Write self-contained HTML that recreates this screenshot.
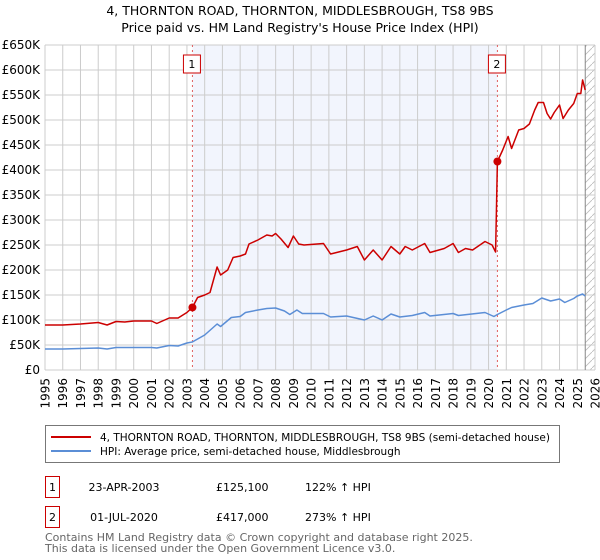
<!DOCTYPE html>
<html><head><meta charset="utf-8">
<style>
body{margin:0;background:#fff;font-family:"Liberation Sans","DejaVu Sans",sans-serif;}
#wrap{position:relative;width:600px;height:560px;overflow:hidden;}
svg text{font-family:"DejaVu Sans","Liberation Sans",sans-serif;}
</style></head><body>
<div id="wrap">
<svg id="chart" width="600" height="560"></svg>
</div>
<script>
const yTicks=[0,50000,100000,150000,200000,250000,300000,350000,400000,450000,500000,550000,600000,650000];
const yTickLabels=["£0","£50K","£100K","£150K","£200K","£250K","£300K","£350K","£400K","£450K","£500K","£550K","£600K","£650K"];
const xYears=[1995,1996,1997,1998,1999,2000,2001,2002,2003,2004,2005,2006,2007,2008,2009,2010,2011,2012,2013,2014,2015,2016,2017,2018,2019,2020,2021,2022,2023,2024,2025,2026];
const redYears=[1995,1996,1997,1998,1998.5,1999,1999.5,2000,2001,2001.3,2002,2002.5,2003,2003.31,2003.6,2004,2004.3,2004.7,2004.9,2005.3,2005.6,2006,2006.3,2006.5,2007,2007.5,2007.8,2008,2008.3,2008.7,2009,2009.3,2009.6,2010.7,2011.1,2012,2012.6,2013,2013.5,2014,2014.5,2015,2015.3,2015.7,2016.4,2016.7,2017.5,2018,2018.3,2018.7,2019.1,2019.8,2020.2,2020.4,2020.5,2020.8,2021.1,2021.3,2021.7,2022,2022.3,2022.6,2022.8,2023.1,2023.3,2023.5,2023.7,2024,2024.2,2024.5,2024.8,2025,2025.2,2025.3,2025.45];
const redValues=[90000,90000,92000,95000,90000,97000,96000,98000,98000,93000,104000,104000,115000,125100,145000,150000,155000,206000,190000,200000,225000,228000,232000,252000,260000,270000,268000,273000,262000,245000,268000,252000,250000,253000,232000,240000,247000,220000,240000,220000,247000,232000,247000,240000,253000,235000,243000,253000,235000,243000,240000,257000,250000,236000,417000,440000,467000,443000,480000,483000,492000,520000,535000,535000,513000,502000,515000,530000,503000,520000,533000,553000,553000,580000,560000];
const hpiYears=[1995,1996,1997,1998,1998.5,1999,2000,2001,2001.3,2002,2002.5,2003,2003.3,2004,2004.7,2004.9,2005.5,2006,2006.3,2007,2007.5,2008,2008.5,2008.8,2009.2,2009.5,2010.7,2011.1,2012,2013,2013.5,2014,2014.5,2015,2015.7,2016.4,2016.7,2018,2018.3,2019.8,2020.3,2020.5,2021,2021.3,2022,2022.5,2023,2023.5,2024,2024.3,2024.8,2025,2025.3,2025.45];
const hpiValues=[42000,42000,43000,44000,42000,45000,45000,45000,44000,49000,48000,54000,56000,70000,92000,87000,105000,107000,115000,120000,123000,124000,118000,111000,120000,113000,113000,106000,108000,100000,108000,100000,112000,106000,109000,115000,108000,113000,109000,115000,107000,111000,120000,125000,130000,133000,144000,138000,142000,135000,143000,148000,152000,148000];
const saleYears=[2003.31,2020.5];
const saleValues=[125100,417000];

const svg=document.getElementById('chart');
const NS='http://www.w3.org/2000/svg';
const L=45,R=595,T=45,B=370;
const xs=y=>L+(y-1995)/(2026-1995)*(R-L);
const ys=v=>B-v/650000*(B-T);
function mk(tag,attrs,parent){const e=document.createElementNS(NS,tag);for(const k in attrs)e.setAttribute(k,attrs[k]);(parent||svg).appendChild(e);return e;}

let t=mk('text',{x:300,y:15,'text-anchor':'middle','font-size':'12.5'});t.textContent='4, THORNTON ROAD, THORNTON, MIDDLESBROUGH, TS8 9BS';


t=mk('text',{x:300,y:32,'text-anchor':'middle','font-size':'12.5'});t.textContent="Price paid vs. HM Land Registry's House Price Index (HPI)";



let sh=mk('rect',{x:xs(saleYears[0]),y:T,width:xs(saleYears[1])-xs(saleYears[0]),height:B-T,fill:'#f2f5fd'});


const defs=mk('defs',{});
const pat=mk('pattern',{id:'hatch',width:8,height:8,patternUnits:'userSpaceOnUse'},defs);
mk('path',{d:'M0,8 L8,0',stroke:'#bbb','stroke-width':0.8},pat);
const hx=xs(2025.45);
let hr=mk('rect',{x:hx,y:T,width:R-hx,height:B-T,fill:'url(#hatch)'});



yTicks.forEach((v,i)=>{
  const g=mk('line',{x1:L,x2:R,y1:ys(v),y2:ys(v),stroke:'#ccc','stroke-width':1});
  
  
  const tx=mk('text',{x:40,y:ys(v)+4,'text-anchor':'end','font-size':'12'});tx.textContent=yTickLabels[i];
  
  
});
xYears.forEach(y=>{
  const g=mk('line',{x1:xs(y),x2:xs(y),y1:T,y2:B,stroke:'#ccc','stroke-width':1});
  
  
  const tx=mk('text',{x:0,y:0,'text-anchor':'end','font-size':'12',transform:`translate(${xs(y)+4.5},378) rotate(-90)`});tx.textContent=y;
  
  
});
let cl=mk('line',{x1:hx,x2:hx,y1:T,y2:B,stroke:'#888','stroke-width':1});



saleYears.forEach((y,i)=>{
  const l=mk('line',{x1:xs(y),x2:xs(y),y1:T,y2:B,stroke:'#e06060','stroke-width':1,'stroke-dasharray':'2,3'});
  
  
  const bx=mk('rect',{x:xs(y)-9,y:55,width:17,height:18,fill:'#fff',stroke:'#c00','stroke-width':1});
  
  
  const tx=mk('text',{x:xs(y)-0.5,y:68,'text-anchor':'middle','font-size':'11'});tx.textContent=String(i+1);
  
  
});

function line(xsArr,vsArr,color,name){
  const d=xsArr.map((y,i)=>(i?'L':'M')+xs(y).toFixed(1)+','+ys(vsArr[i]).toFixed(1)).join(' ');
  const p=mk('path',{d:d,fill:'none',stroke:color,'stroke-width':1.5,'stroke-linejoin':'round'});
  
  
}
line(hpiYears,hpiValues,'#5b8ed6','hpi-line');
line(redYears,redValues,'#cc0000','price-paid-line');
saleYears.forEach((y,i)=>{
  const c=mk('circle',{cx:xs(y),cy:ys(saleValues[i]),r:4,fill:'#cc0000'});
  
  
});

const lg=mk('g',{});


mk('rect',{x:45.5,y:425.5,width:514,height:37,fill:'#fff',stroke:'#777','stroke-width':1},lg);
mk('line',{x1:51,x2:91,y1:437,y2:437,stroke:'#cc0000','stroke-width':2},lg);
mk('line',{x1:51,x2:91,y1:451,y2:451,stroke:'#5b8ed6','stroke-width':2},lg);
let le=mk('text',{x:100,y:441,'font-size':'10.5'},lg);le.textContent='4, THORNTON ROAD, THORNTON, MIDDLESBROUGH, TS8 9BS (semi-detached house)';


le=mk('text',{x:100,y:455,'font-size':'10.5'},lg);le.textContent='HPI: Average price, semi-detached house, Middlesbrough';



const rows=[["1","23-APR-2003","£125,100","122% ↑ HPI",476],["2","01-JUL-2020","£417,000","273% ↑ HPI",506]];
rows.forEach(r=>{
  const g=mk('g',{});
  
  
  mk('rect',{x:45.5,y:r[4]+0.5,width:14,height:21,fill:'#fff',stroke:'#c00','stroke-width':1},g);
  let a=mk('text',{x:52.5,y:r[4]+15,'text-anchor':'middle','font-size':'11'},g);a.textContent=r[0];
  a=mk('text',{x:124,y:r[4]+15,'text-anchor':'middle','font-size':'11'},g);a.textContent=r[1];
  a=mk('text',{x:216,y:r[4]+15,'font-size':'11'},g);a.textContent=r[2];
  a=mk('text',{x:305,y:r[4]+15,'font-size':'11'},g);a.textContent=r[3];
});
let f=mk('text',{x:45,y:541,'font-size':'11',fill:'#666'});f.textContent='Contains HM Land Registry data © Crown copyright and database right 2025.';


f=mk('text',{x:45,y:552,'font-size':'11',fill:'#666'});f.textContent='This data is licensed under the Open Government Licence v3.0.';


</script>
</body></html>
